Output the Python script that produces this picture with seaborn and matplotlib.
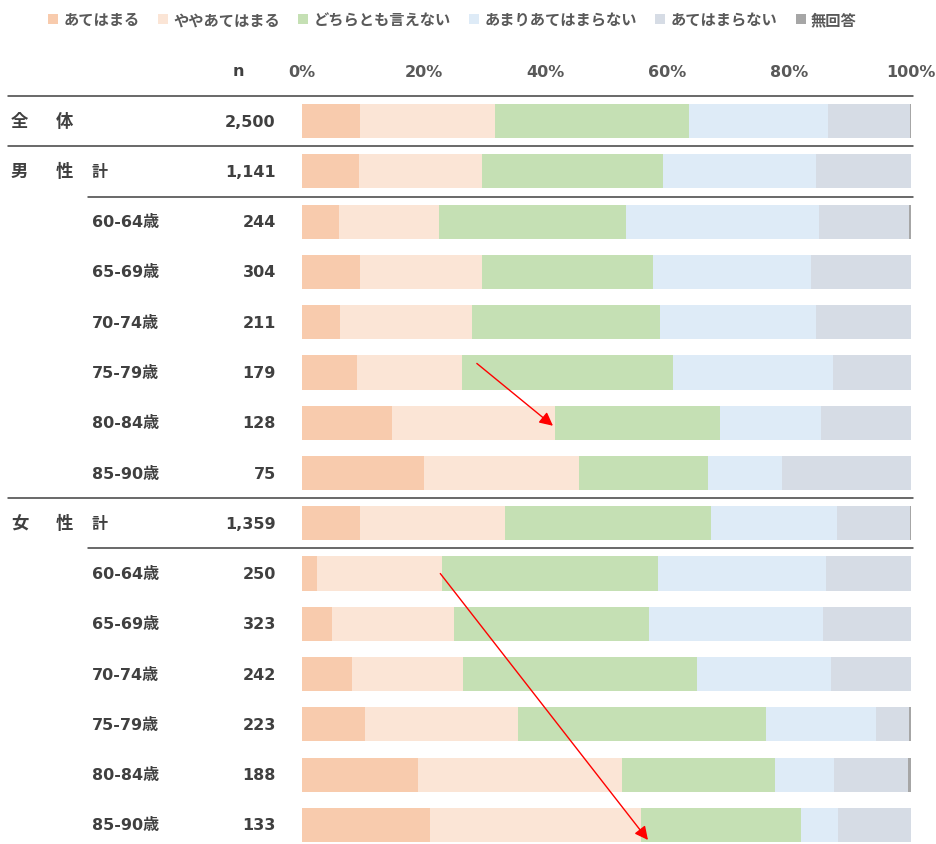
import matplotlib
matplotlib.use('Agg')
import matplotlib.pyplot as plt
from matplotlib.patches import Patch
import numpy as np
import seaborn as sns

sns.set_style('white')
plt.rcParams['font.family'] = ['DejaVu Sans', 'Noto Sans CJK JP']

# categories (legend order)
answers = ['あてはまる', 'ややあてはまる', 'どちらとも言えない', 'あまりあてはまらない', 'あてはまらない', '無回答']
colors = ['#F8CBAD', '#FBE5D6', '#C5E0B4', '#DEEBF7', '#D6DCE5', '#A6A6A6']

groups = ['全体', '男性', '', '', '', '', '', '', '女性', '', '', '', '', '', '']
sub_labels = ['', '計', '60-64歳', '65-69歳', '70-74歳', '75-79歳', '80-84歳', '85-90歳',
              '計', '60-64歳', '65-69歳', '70-74歳', '75-79歳', '80-84歳', '85-90歳']
n_values = ['2,500', '1,141', '244', '304', '211', '179', '128', '75',
            '1,359', '250', '323', '242', '223', '188', '133']

# shares in % per row
ateharu = [9.5, 9.3, 6.0, 9.5, 6.2, 9.0, 14.7, 20.0, 9.5, 2.4, 4.9, 8.2, 10.3, 19.1, 21.0]
yaya = [22.2, 20.3, 16.5, 20.1, 21.7, 17.2, 26.8, 25.4, 23.9, 20.5, 20.1, 18.3, 25.1, 33.5, 34.7]
dochira = [31.8, 29.6, 30.7, 28.0, 30.8, 34.7, 27.2, 21.2, 33.7, 35.5, 31.9, 38.3, 40.8, 25.0, 26.2]
amari = [22.8, 25.2, 31.7, 26.0, 25.7, 26.3, 16.5, 12.2, 20.7, 27.6, 28.6, 22.0, 18.0, 9.7, 6.1]
atehamaranai = [13.6, 15.6, 14.7, 16.4, 15.6, 12.8, 14.8, 21.2, 12.1, 14.0, 14.5, 13.2, 5.4, 12.2, 12.0]
mukaito = [0.1, 0.0, 0.4, 0.0, 0.0, 0.0, 0.0, 0.0, 0.1, 0.0, 0.0, 0.0, 0.4, 0.5, 0.0]

series = [ateharu, yaya, dochira, amari, atehamaranai, mukaito]
cum = np.cumsum(np.array(series), axis=0)
row_ids = [f'r{i}' for i in range(len(n_values))]
n_rows = len(row_ids)

text_color = '#404040'
grey_text = '#595959'
fs = 11.5
cjk = ['Noto Sans CJK JP', 'DejaVu Sans']

fig = plt.figure(figsize=(9.36, 8.45), dpi=100)
ax = fig.add_axes([0, 0, 1, (845 - 97) / 845])

# stacked bars: draw cumulative totals from the back
for k in range(len(answers) - 1, -1, -1):
    sns.barplot(x=cum[k], y=row_ids, orient='h', color=colors[k], saturation=1,
                width=0.68, errorbar=None, linewidth=0, ax=ax)

ax.set_xlim(-49.6, 104.1)
ax.set_ylim(14.38, -0.5)
for s in ax.spines.values():
    s.set_visible(False)
ax.set_yticks([])
ax.set_ylabel('')
ax.set_xlabel('')
ax.set_xticks([0, 20, 40, 60, 80, 100])
ax.set_xticklabels([f'{t}%' for t in range(0, 101, 20)], fontsize=11.5,
                   fontweight='bold', color=grey_text)
ax.tick_params(axis='x', top=True, labeltop=True, bottom=False, labelbottom=False,
               length=0, pad=12)

# header "n"
ax.text(-10.5, -1.0, 'n', ha='center', va='center', fontsize=fs, fontweight='bold',
        color=text_color, clip_on=False)

# row labels
for i in range(n_rows):
    g = groups[i]
    if g:
        ax.text(-47.8, i, g[0], ha='left', va='center', fontsize=12.5, fontweight='bold',
                color=text_color, family=cjk)
        ax.text(-40.4, i, g[1], ha='left', va='center', fontsize=12.5, fontweight='bold',
                color=text_color, family=cjk)
    if sub_labels[i]:
        ax.text(-34.5, i, sub_labels[i], ha='left', va='center', fontsize=fs,
                fontweight='bold', color=text_color)
    ax.text(-4.3, i, n_values[i], ha='right', va='center', fontsize=fs,
            fontweight='bold', color=text_color)

# separator lines
line_kw = dict(color='#404040', lw=1.1)
ax.plot([-48.3, 100.3], [-0.5, -0.5], clip_on=False, **line_kw)
ax.plot([-48.3, 100.3], [0.5, 0.5], **line_kw)
ax.plot([-35.1, 100.3], [1.5, 1.5], **line_kw)
ax.plot([-48.3, 100.3], [7.5, 7.5], **line_kw)
ax.plot([-35.1, 100.3], [8.5, 8.5], **line_kw)

# red arrows
arrow_kw = dict(arrowstyle='-|>', color='red', lw=1, mutation_scale=20, shrinkA=0, shrinkB=0)
ax.annotate('', xy=(41.2, 6.06), xytext=(28.7, 4.82), arrowprops=arrow_kw)
ax.annotate('', xy=(56.8, 14.3), xytext=(22.7, 9.0), arrowprops=arrow_kw, annotation_clip=False)

# legend
handles = [Patch(facecolor=c, edgecolor='none', label=a) for a, c in zip(answers, colors)]
leg = fig.legend(handles=handles, loc='upper left', bbox_to_anchor=(42 / 936, 1 - 6 / 845),
                 ncol=6, frameon=False, handlelength=0.65, handleheight=0.65,
                 handletextpad=0.35, columnspacing=1.2, borderaxespad=0,
                 prop={'family': cjk, 'size': 11, 'weight': 'bold'})
for t in leg.get_texts():
    t.set_color(grey_text)

fig.savefig('out.png', dpi=100)
